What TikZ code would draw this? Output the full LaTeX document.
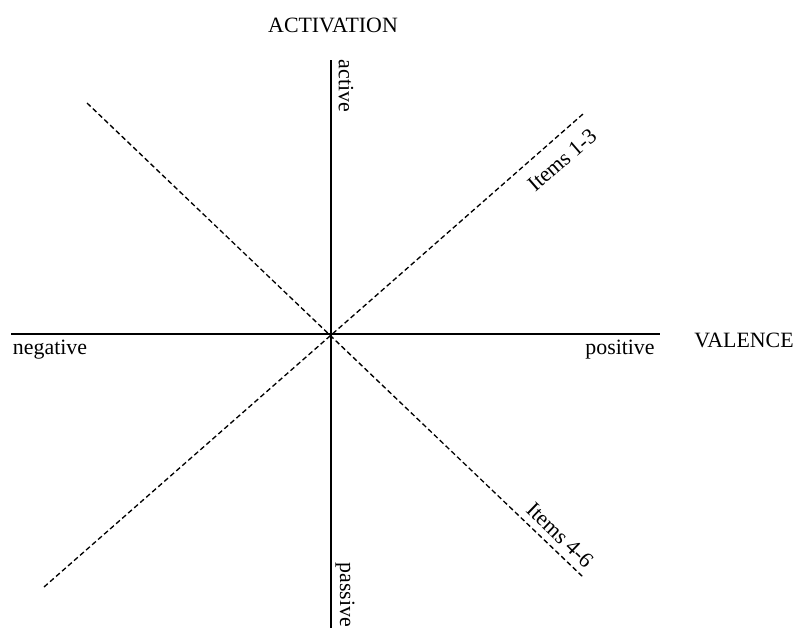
\documentclass[tikz,border=0pt]{standalone}
\usepackage{fontspec}
\setmainfont{Liberation Serif}
\usetikzlibrary{calc}

\begin{document}
\begin{tikzpicture}[x=0.75pt,y=-0.75pt,font=\fontsize{16.4}{20}\selectfont,
            axis/.style={line width=1pt},
            item/.style={line width=1pt, dash pattern=on 3.75pt off 2.25pt}]
            \useasboundingbox (0,0) rectangle (797,628);
            \coordinate (O) at (331,334);
            \coordinate (N) at (331,60);
            \coordinate (S) at (331,628);
            \coordinate (W) at (11,334);
            \coordinate (E) at (660,334);
            \coordinate (NW) at (87,103);
            \coordinate (SE) at (583,577);
            \coordinate (SW) at (44,587);
            \coordinate (NE) at (583,114);
            \draw[axis] (W) -- (E);
            \draw[axis] (N) -- (S);
            \draw[item] (NW) -- (SE);
            \draw[item] (SW) -- (NE);
            \node (Act) at (333,25) {ACTIVATION};
            \node (Val) at (744,340) {VALENCE};
            \node (Neg) at (50,350) {negative};
            \node (Pos) at (620,350) {positive};
            \node[rotate=-90] (Active) at (346,86) {active};
            \node[rotate=-90] (Passive) at (345,595) {passive};
            \node[rotate=41] (Items0) at (562,160) {Items 1-3};
            \node[rotate=-44] (Items1) at (560,535) {Items 4-6};
        \end{tikzpicture}
\end{document}
